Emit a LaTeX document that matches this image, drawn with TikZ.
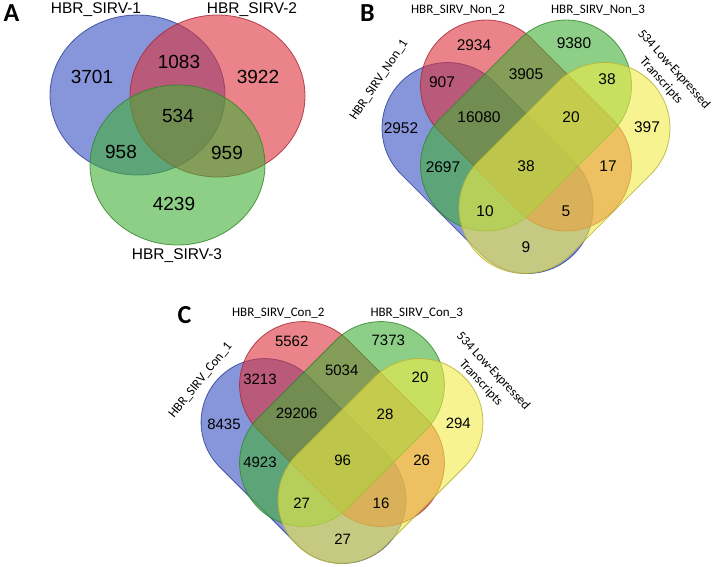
\documentclass[tikz,border=0pt]{standalone}
\usepackage{fontspec}
\setmainfont{Liberation Sans}
\newfontfamily\calfont{Carlito}
\definecolor{vblue}{RGB}{55,80,195}
\definecolor{vred}{RGB}{220,50,60}
\definecolor{vgreen}{RGB}{65,175,55}
\definecolor{vyellow}{RGB}{240,235,70}
\newcommand\capsule[6]{%
  \begin{scope}[shift={(#1,#2)}, rotate=#3]
    \pgfmathsetmacro\hl{#4/2}\pgfmathsetmacro\hw{#5/2}\pgfmathsetmacro\rr{#5/2-0.05}
    \filldraw[vshape=#6, rounded corners=\rr pt] (-\hl,-\hw) rectangle (\hl,\hw);
  \end{scope}}
\begin{document}
\begin{tikzpicture}[x=1pt,y=-1pt,
  vshape/.style={fill=#1, draw=#1!75!black, fill opacity=0.6, draw opacity=0.8, line width=0.8pt},
  numA/.style={font=\fontsize{19}{22}\selectfont, inner sep=0pt},
  num/.style={font=\fontsize{15.5}{18}\selectfont, inner sep=0pt},
  numC/.style={font=\fontsize{15}{18}\selectfont, inner sep=0pt},
  labA/.style={font=\fontsize{15.5}{18}\selectfont, inner sep=0pt, anchor=base},
  lab/.style={font=\calfont\fontsize{13}{15}\selectfont, inner sep=0pt},
  panel/.style={font=\calfont\bfseries\fontsize{26}{28}\selectfont, inner sep=0pt}]
\useasboundingbox (0,0) rectangle (713,567);
\fill[white] (0,0) rectangle (713,567);

% ---------- Panel A ----------
\filldraw[vshape=vblue] (137.5,95) ellipse [x radius=87.5pt, y radius=80pt];
\filldraw[vshape=vred] (217.5,96) ellipse [x radius=87.5pt, y radius=81pt];
\filldraw[vshape=vgreen] (177.5,165) ellipse [x radius=87.5pt, y radius=80pt];
\node[panel] (pA) at (11.5,13.5) {A};
\node[labA] (a1) at (96,14) {HBR\_SIRV-1};
\node[labA] (a2) at (252,14) {HBR\_SIRV-2};
\node[labA] (a3) at (177,260) {HBR\_SIRV-3};
\node[numA] (na1) at (92,77) {3701};
\node[numA] (na2) at (179,62) {1083};
\node[numA] (na3) at (258,77) {3922};
\node[numA] (na4) at (178,116) {534};
\node[numA] (na5) at (121,152) {958};
\node[numA] (na6) at (227,153) {959};
\node[numA] (na7) at (174,204) {4239};

% ---------- Panel B ----------
\capsule{487.5}{168}{-45}{244}{131}{vblue}
\capsule{526}{125.5}{-45}{244}{131}{vred}
\capsule{526}{125.5}{45}{244}{131}{vgreen}
\capsule{564.5}{168}{45}{244}{131}{vyellow}
\node[panel] (pB) at (367.5,13.5) {B};
\node[lab, anchor=base] (b2) at (458,13.5) {HBR\_SIRV\_Non\_2};
\node[lab, anchor=base] (b3) at (598,13.5) {HBR\_SIRV\_Non\_3};
\node[lab, rotate=56] (b1) at (379,80) {HBR\_SIRV\_Non\_1};
\node[lab, rotate=-48, align=center] (b4) at (667.5,75) {534 Low-Expressed\\[2pt]Transcripts};
\node[num] (nb1) at (474,45) {2934};
\node[num] (nb2) at (574,43) {9380};
\node[num] (nb3) at (442,82) {907};
\node[num] (nb4) at (526,74) {3905};
\node[num] (nb5) at (607,79) {38};
\node[num] (nb6) at (479,117) {16080};
\node[num] (nb7) at (571,117) {20};
\node[num] (nb8) at (401,128) {2952};
\node[num] (nb9) at (647,127) {397};
\node[num] (nb10) at (443,167) {2697};
\node[num] (nb11) at (526,166) {38};
\node[num] (nb12) at (608,166) {17};
\node[num] (nb13) at (485,211) {10};
\node[num] (nb14) at (566,211) {5};
\node[num] (nb15) at (526,247) {9};

% ---------- Panel C ----------
\capsule{303.5}{461}{-45}{237}{127}{vblue}
\capsule{342}{424}{-45}{237}{127}{vred}
\capsule{342}{424}{45}{237}{127}{vgreen}
\capsule{380.5}{461}{45}{237}{127}{vyellow}
\node[panel] (pC) at (184.5,315) {C};
\node[lab, anchor=base] (c2) at (278.3,316.5) {HBR\_SIRV\_Con\_2};
\node[lab, anchor=base] (c3) at (416.7,316.5) {HBR\_SIRV\_Con\_3};
\node[lab, rotate=51] (c1) at (200.5,380.5) {HBR\_SIRV\_Con\_1};
\node[lab, rotate=-47, align=center] (c4) at (487,377) {534 Low-Expressed\\[2pt]Transcripts};
\node[numC] (nc1) at (291.7,341.7) {5562};
\node[numC] (nc2) at (388.3,340.7) {7373};
\node[numC] (nc3) at (260,379.3) {3213};
\node[numC] (nc4) at (341.7,370) {5034};
\node[numC] (nc5) at (420,377.3) {20};
\node[numC] (nc6) at (296.7,413.3) {29206};
\node[numC] (nc7) at (385,414) {28};
\node[numC] (nc8) at (224,424) {8435};
\node[numC] (nc9) at (458.3,423.3) {294};
\node[numC] (nc10) at (260,462.7) {4923};
\node[numC] (nc11) at (342.7,460.7) {96};
\node[numC] (nc12) at (421.7,460.7) {26};
\node[numC] (nc13) at (301.7,503.3) {27};
\node[numC] (nc14) at (381,503.3) {16};
\node[numC] (nc15) at (342.7,539.3) {27};
\end{tikzpicture}
\end{document}
